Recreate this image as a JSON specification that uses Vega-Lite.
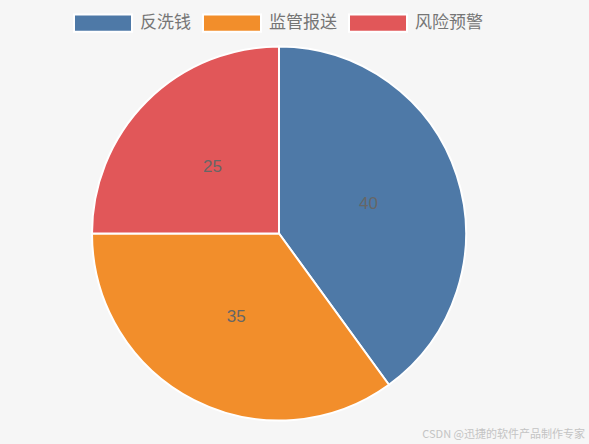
{
  "$schema": "https://vega.github.io/schema/vega-lite/v6.json",
  "width": 558,
  "height": 423,
  "autosize": "none",
  "padding": {"left": 0, "top": 22, "right": 31, "bottom": 0},
  "background": "#f6f6f6",
  "title": {
    "text": "CSDN @迅捷的软件产品制作专家",
    "orient": "bottom",
    "anchor": "end",
    "dx": 27,
    "dy": -16,
    "offset": 0,
    "font": "Noto Sans CJK SC",
    "fontSize": 11,
    "fontWeight": "normal",
    "color": "#c4c4c4"
  },
  "data": {
    "values": [
      {"category": "反洗钱", "value": 40, "rank": 1},
      {"category": "监管报送", "value": 35, "rank": 2},
      {"category": "风险预警", "value": 25, "rank": 3}
    ]
  },
  "encoding": {
    "theta": {"field": "value", "type": "quantitative", "stack": true},
    "order": {"field": "rank", "type": "quantitative"}
  },
  "layer": [
    {
      "mark": {"type": "arc", "outerRadius": 187, "stroke": "white", "strokeWidth": 2},
      "encoding": {
        "color": {
          "field": "category",
          "type": "nominal",
          "sort": ["反洗钱", "监管报送", "风险预警"],
          "scale": {
            "domain": ["反洗钱", "监管报送", "风险预警"],
            "range": ["#4e79a7", "#f28e2b", "#e15759"]
          },
          "legend": {
            "title": null,
            "orient": "none",
            "direction": "horizontal",
            "legendX": 73,
            "legendY": -29,
            "symbolType": "M-1,-0.3H1V0.3H-1Z",
            "symbolSize": 3364,
            "symbolStrokeColor": "white",
            "symbolStrokeWidth": 2,
            "symbolOpacity": 1,
            "labelFont": "Noto Sans CJK SC",
            "labelFontSize": 17,
            "labelColor": "#757575",
            "labelOffset": 7,
            "columnPadding": 8
          }
        }
      }
    },
    {
      "mark": {"type": "text", "radius": 94, "fontSize": 17, "font": "Liberation Sans", "fill": "#666666"},
      "encoding": {
        "text": {"field": "value", "type": "quantitative"}
      }
    }
  ],
  "config": {"view": {"stroke": null}}
}
